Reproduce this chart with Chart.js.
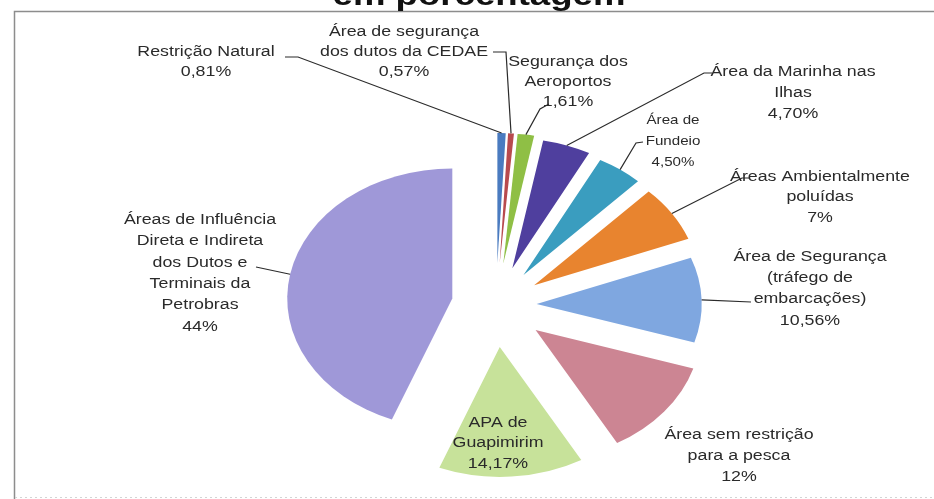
<!DOCTYPE html>
<html>
<head>
<meta charset="utf-8">
<script src="https://cdn.jsdelivr.net/npm/chart.js@4.4.1/dist/chart.umd.min.js"></script>
<style>
  html, body { margin: 0; padding: 0; background: #fff; }
  canvas { display: block; }
</style>
</head>
<body>
<canvas id="pieChart" width="934" height="499"></canvas>
<script>
// chart data
const categories = [
  ["Restrição Natural"],
  ["Área de segurança", "dos dutos da CEDAE"],
  ["Segurança dos", "Aeroportos"],
  ["Área da Marinha nas", "Ilhas"],
  ["Área de", "Fundeio"],
  ["Áreas Ambientalmente", "poluídas"],
  ["Área de Segurança", "(tráfego de", "embarcações)"],
  ["Área sem restrição", "para a pesca"],
  ["APA de", "Guapimirim"],
  ["Áreas de Influência", "Direta e Indireta", "dos Dutos e", "Terminais da", "Petrobras"]
];
const values = [0.81, 0.57, 1.61, 4.70, 4.50, 7, 10.56, 12, 14.17, 44];
const valueLabels = ["0,81%", "0,57%", "1,61%", "4,70%", "4,50%", "7%", "10,56%", "12%", "14,17%", "44%"];
const titleText = "em porcentagem";

// where each label block sits, and the bend of its leader line
const labelLayout = [
  { x: 206, y: 52, lh: 20, leader: [[298, 57], [285, 57]] },
  { x: 404, y: 32, lh: 20, leader: [[506, 52], [493, 52]] },
  { x: 568, y: 62, lh: 20, leader: [[540, 109], [549, 104]] },
  { x: 793, y: 72, lh: 21, leader: [[704, 73], [712, 73]] },
  { x: 673, y: 120, lh: 21, fs: 13.5, sx: 1.12, leader: [[636, 143], [643, 142]] },
  { x: 820, y: 177, lh: 20.5, leader: [[742, 178], [749, 178]] },
  { x: 810, y: 257, lh: 21.3, leader: [[751, 302]] },
  { x: 739, y: 435, lh: 21, leader: null },
  { x: 498, y: 423, lh: 20.5, leader: null },
  { x: 200, y: 220, lh: 21.4, leader: [[256, 267]] }
];

const SX = 1.27; // the scanned chart is stretched sideways

function slicePoint(arc, d, frac, rf) {
  const mid = (arc.startAngle + arc.endAngle) / 2;
  const a = arc.startAngle + (arc.endAngle - arc.startAngle) * frac;
  const px = arc.x + Math.cos(mid) * d + Math.cos(a) * arc.outerRadius * rf;
  const py = arc.y + Math.sin(mid) * d + Math.sin(a) * arc.outerRadius * rf;
  return [arc.x + (px - arc.x) * SX, py];
}

function wideText(ctx, text, x, y, sx) {
  ctx.save();
  ctx.translate(x, y);
  ctx.scale(sx, 1);
  ctx.fillText(text, 0, 0);
  ctx.restore();
}

const explodedPie = {
  id: "explodedPie",
  beforeDraw(chart) {
    const ctx = chart.ctx;
    ctx.save();
    ctx.fillStyle = "#fff";
    ctx.fillRect(0, 0, chart.width, chart.height);
    // frame of the scanned figure
    ctx.strokeStyle = "#8d8d8d";
    ctx.lineWidth = 1.5;
    ctx.beginPath();
    ctx.moveTo(chart.width, 11.5);
    ctx.lineTo(14.5, 11.5);
    ctx.lineTo(14.5, chart.height);
    ctx.stroke();
    ctx.strokeStyle = "#d4d4d4";
    ctx.lineWidth = 1;
    ctx.setLineDash([2, 3]);
    ctx.beginPath();
    ctx.moveTo(15, 497.5);
    ctx.lineTo(chart.width, 497.5);
    ctx.stroke();
    ctx.restore();
  },
  beforeDatasetDraw(chart, args) {
    const ctx = chart.ctx;
    const ds = chart.data.datasets[args.index];
    args.meta.data.forEach((arc, i) => {
      const mid = (arc.startAngle + arc.endAngle) / 2;
      const d = ds.explode[i];
      ctx.save();
      ctx.translate(arc.x, arc.y);
      ctx.scale(SX, 1);
      ctx.translate(-arc.x, -arc.y);
      ctx.translate(Math.cos(mid) * d, Math.sin(mid) * d);
      arc.draw(ctx);
      ctx.restore();
    });
    return false;
  },
  afterDatasetsDraw(chart) {
    const ctx = chart.ctx;
    const meta = chart.getDatasetMeta(0);
    const ds = chart.data.datasets[0];
    ctx.save();

    // leader lines
    ctx.strokeStyle = "#2b2b2b";
    ctx.lineWidth = 1.2;
    labelLayout.forEach((lay, i) => {
      if (!lay.leader) return;
      const p = slicePoint(meta.data[i], ds.explode[i], 0.5, 1);
      ctx.beginPath();
      ctx.moveTo(p[0], p[1]);
      lay.leader.forEach(q => ctx.lineTo(q[0], q[1]));
      ctx.stroke();
    });

    // label blocks
    ctx.fillStyle = "#2a2a2a";
    ctx.textAlign = "center";
    ctx.textBaseline = "middle";
    labelLayout.forEach((lay, i) => {
      ctx.font = (lay.fs || 14) + 'px "Liberation Sans", Arial, sans-serif';
      const lines = categories[i].concat([valueLabels[i]]);
      lines.forEach((t, k) => wideText(ctx, t, lay.x, lay.y + k * lay.lh, lay.sx || SX));
    });

    // title, cut off by the top of the scan
    ctx.fillStyle = "#111";
    ctx.font = 'bold 30px "Liberation Sans", Arial, sans-serif';
    ctx.textBaseline = "alphabetic";
    wideText(ctx, titleText, 479, 5, 1.22);
    ctx.restore();
  }
};

new Chart(document.getElementById("pieChart"), {
  type: "pie",
  data: {
    labels: categories.map(c => c.join(" ")),
    datasets: [{
      data: values,
      backgroundColor: [
        "#4a7bc0", "#b84a4e", "#8fbf45", "#4f3f9e", "#3a9dbf",
        "#e8842f", "#7fa7e0", "#cc8593", "#c7e29a", "#9f98d8"
      ],
      borderWidth: 0,
      explode: [42, 42, 42, 39, 37, 36, 32, 40, 42, 35],
      clip: false
    }]
  },
  options: {
    responsive: false,
    animation: false,
    radius: 130,
    layout: { padding: { left: 58, right: 0, top: 111, bottom: 0 } },
    plugins: {
      legend: { display: false },
      tooltip: { enabled: false },
      title: { display: false }
    }
  },
  plugins: [explodedPie]
});
</script>
</body>
</html>
